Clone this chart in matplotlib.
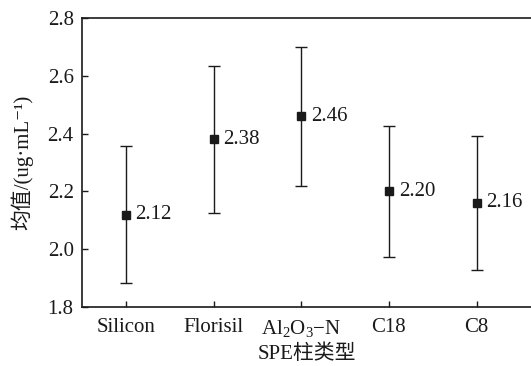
import matplotlib
matplotlib.use("Agg")
import matplotlib.pyplot as plt

categories = ["Silicon", "Florisil", "Al$_2$O$_3$\u2212N", "C18", "C8"]
means = [2.12, 2.38, 2.46, 2.20, 2.16]
errors = [0.237, 0.255, 0.24, 0.226, 0.232]
labels = ["2.12", "2.38", "2.46", "2.20", "2.16"]
yticks = [1.8, 2.0, 2.2, 2.4, 2.6, 2.8]

fams = ['Liberation Serif', 'Noto Sans CJK SC', 'DejaVu Serif']
plt.rcParams['font.family'] = fams
plt.rcParams['mathtext.fontset'] = 'custom'
plt.rcParams['mathtext.rm'] = 'Liberation Serif'
plt.rcParams['mathtext.it'] = 'Liberation Serif'

fig = plt.figure(figsize=(5.31, 3.66), dpi=100)
ax = fig.add_axes([82/531, 1-307/366, 1-82/531, (307-18)/366])

x = list(range(len(categories)))
ax.errorbar(x, means, yerr=errors, fmt='s', color='#1a1a1a', ms=5.5,
            ecolor='#1a1a1a', elinewidth=1.0, capsize=4, capthick=1.0)
for xi, m, lab in zip(x, means, labels):
    ax.annotate(lab, (xi, m), xytext=(7, 0), textcoords='offset points',
                ha='left', va='center', fontsize=15, color='#1a1a1a')

ax.set_xlim(-0.5, 4.62)
ax.set_ylim(1.8, 2.8)
ax.set_yticks(yticks)
ax.set_yticklabels([f"{v:.1f}" for v in yticks])
ax.set_xticks(x)
ax.set_xticklabels(categories)
ax.tick_params(direction='in', labelsize=15, length=4, width=1.0, colors='#1a1a1a')
ax.tick_params(axis='x', pad=8)
ax.tick_params(axis='y', pad=6)
ax.spines['right'].set_visible(False)
for s in ['left', 'top', 'bottom']:
    ax.spines[s].set_linewidth(1.2)
    ax.spines[s].set_color('#1a1a1a')

ax.set_xlabel("SPE柱类型", fontsize=15, family=fams, color='#1a1a1a', labelpad=4)
ax.set_ylabel("均值/(ug·mL\u207b\u00b9)", fontsize=15, family=fams, color='#1a1a1a', labelpad=10)

fig.savefig("out.png", dpi=100)
